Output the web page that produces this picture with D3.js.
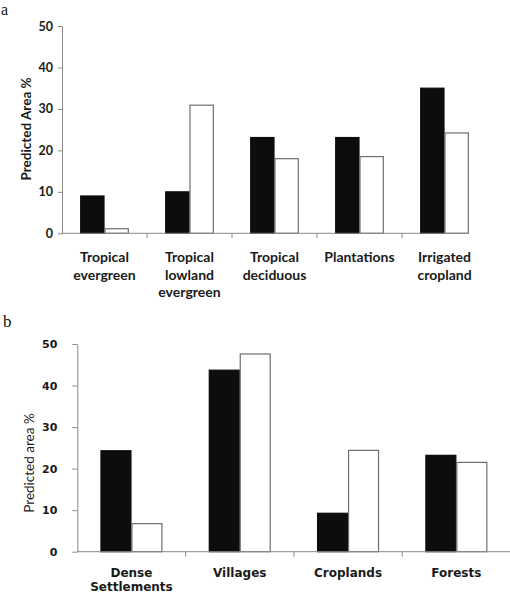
<!DOCTYPE html>
<html>
<head>
<meta charset="utf-8">
<script src="https://cdn.jsdelivr.net/npm/d3@7"></script>
<style>
  html, body { margin: 0; padding: 0; background: #fff; }
  svg { display: block; }
</style>
</head>
<body>
<svg id="chart" width="510" height="593"></svg>
<script>
// ---- Data ----
const categoriesA = ["Tropical\nevergreen", "Tropical\nlowland\nevergreen", "Tropical\ndeciduous", "Plantations", "Irrigated\ncropland"];
const seriesA1 = [9, 10, 23.1, 23.1, 35];     // black bars
const seriesA2 = [1.1, 30.9, 18, 18.5, 24.2]; // white bars
const yTicksA = [0, 10, 20, 30, 40, 50];

const categoriesB = ["Dense\nSettlements", "Villages", "Croplands", "Forests"];
const seriesB1 = [24.3, 43.7, 9.25, 23.2];
const seriesB2 = [6.75, 47.6, 24.4, 21.5];
const yTicksB = [0, 10, 20, 30, 40, 50];

const svg = d3.select("#chart");
const axisColor = "#8a8a8a";

function drawPanel(opt) {
  const g = svg.append("g");
  const y = d3.scaleLinear().domain([0, 50]).range([opt.y0, opt.y50]);
  const x0 = d3.scaleBand().domain(opt.cats).range([opt.xl, opt.xr])
    .paddingInner(0.428).paddingOuter(0.214);
  const x1 = d3.scaleBand().domain([0, 1]).range([0, x0.bandwidth()]);
  const data = opt.cats.map((c, i) => ({ c, v: [opt.s1[i], opt.s2[i]] }));

  // y axis
  const yAxis = d3.axisLeft(y).tickValues(opt.yTicks).tickSize(opt.yTickLen).tickPadding(opt.yPad).tickSizeOuter(0);
  const ya = g.append("g").attr("transform", `translate(${opt.xl},0)`).call(yAxis);
  ya.select(".domain").attr("stroke", axisColor);
  ya.selectAll(".tick line").attr("stroke", axisColor);
  ya.selectAll(".tick text").attr("font-family", opt.tickFont).attr("font-weight", "bold")
    .attr("font-size", opt.tickSize).attr("fill", "#1a1a1a");

  // bars
  const grp = g.selectAll(".grp").data(data).join("g")
    .attr("transform", d => `translate(${x0(d.c)},0)`);
  grp.selectAll("rect").data(d => d.v.map((v, k) => ({ v, k }))).join("rect")
    .attr("x", d => x1(d.k) + 0.5)
    .attr("width", x1.bandwidth() - 1)
    .attr("y", d => y(d.v))
    .attr("height", d => y(0) - y(d.v))
    .attr("fill", d => d.k === 0 ? "#0d0d0d" : "#ffffff")
    .attr("stroke", d => d.k === 0 ? "#0d0d0d" : "#6e6e6e")
    .attr("stroke-width", 1.2);

  // x axis line
  g.append("line").attr("x1", opt.xl).attr("x2", opt.axisEnd(x0))
    .attr("y1", y(0)).attr("y2", y(0)).attr("stroke", axisColor).attr("stroke-width", 1);
  // category boundary ticks
  const bounds = opt.cats.map(c => x0(c) - x0.step() * 0.428 / 2 + x0.step()).filter(b => b <= opt.axisEnd(x0) + 1 || opt.tickLast);
  g.selectAll(".xt").data(bounds).join("line")
    .attr("x1", d => d).attr("x2", d => d)
    .attr("y1", y(0)).attr("y2", y(0) + 5)
    .attr("stroke", axisColor);

  // category labels
  const lab = g.selectAll(".lab").data(data).join("text")
    .attr("text-anchor", "middle")
    .attr("font-family", opt.labFont).attr("font-weight", "bold")
    .attr("font-size", opt.labSize).attr("fill", "#1a1a1a");
  lab.selectAll("tspan").data(d => d.c.split("\n").map(t => ({ t, c: d.c }))).join("tspan")
    .attr("x", d => x0(d.c) + x0.bandwidth() / 2)
    .attr("y", (d, i) => opt.labY + i * opt.labLH)
    .text(d => d.t);

  // y title
  g.append("text")
    .attr("transform", `translate(${opt.titleX},${opt.titleY}) rotate(-90)`)
    .attr("text-anchor", "middle")
    .attr("font-family", opt.titleFont).attr("font-weight", opt.titleWeight)
    .attr("font-size", opt.titleSize).attr("fill", "#1a1a1a")
    .text(opt.title);

  // panel letter
  g.append("text").attr("x", opt.letterX).attr("y", opt.letterY)
    .attr("font-family", "Liberation Serif, Times New Roman, serif")
    .attr("font-size", opt.letterSize).attr("fill", "#111").text(opt.letter);
}

drawPanel({
  cats: categoriesA, s1: seriesA1, s2: seriesA2, yTicks: yTicksA,
  y0: 233.3, y50: 26, xl: 62, xr: 487,
  axisEnd: x0 => x0(categoriesA[categoriesA.length - 1]) + x0.bandwidth(),
  tickLast: false,
  yTickLen: 4, yPad: 5, tickFont: "Lato, sans-serif", tickSize: 12.5,
  labFont: "Lato, sans-serif", labSize: 14, labY: 262, labLH: 17.5,
  title: "Predicted Area %", titleX: 31, titleY: 129, titleFont: "Lato, sans-serif",
  titleWeight: "bold", titleSize: 13.5,
  letter: "a", letterX: 1, letterY: 15, letterSize: 16
});

drawPanel({
  cats: categoriesB, s1: seriesB1, s2: seriesB2, yTicks: yTicksB,
  y0: 551.7, y50: 344, xl: 77.3, xr: 510.5,
  axisEnd: x0 => 510.5,
  tickLast: true,
  yTickLen: 5, yPad: 15, tickFont: "DejaVu Sans, Verdana, sans-serif", tickSize: 11,
  labFont: "DejaVu Sans, Verdana, sans-serif", labSize: 12, labY: 577, labLH: 13.5,
  title: "Predicted area %", titleX: 34, titleY: 463, titleFont: "Lato, sans-serif",
  titleWeight: "normal", titleSize: 13.5,
  letter: "b", letterX: 3, letterY: 327, letterSize: 17
});
</script>
</body>
</html>
